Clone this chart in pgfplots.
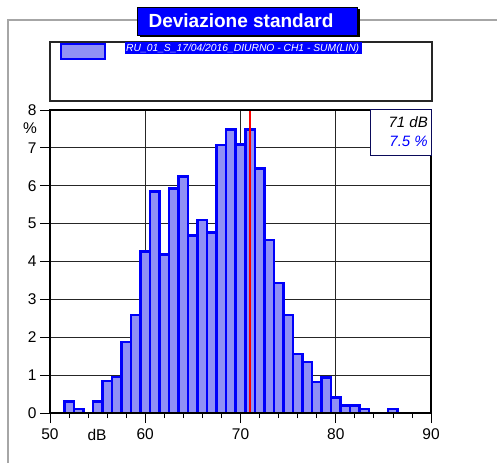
\documentclass[border=0pt]{standalone}
\usepackage{pgfplots}
\pgfplotsset{compat=1.18}
\usepackage{fontspec}
\setmainfont{Liberation Sans}
\definecolor{barfill}{RGB}{145,145,245}
\definecolor{barline}{RGB}{0,0,250}
\definecolor{navy}{RGB}{10,10,90}
\begin{document}
\begin{tikzpicture}[x=1pt,y=1pt]
\path[use as bounding box] (0,0) rectangle (497,463);
\draw[black!35, line width=1.2pt] (8,0) -- (8,443) -- (497,443);
% title
\fill[black] (139.5,425.5) rectangle (359.5,453.5);
\draw[fill={rgb,255:red,0;green,0;blue,255}, draw=black, line width=0.8pt] (137,428) rectangle (357,456);
\node[white, font=\fontsize{19}{19}\selectfont\bfseries] at (241,442) {Deviazione standard};
% legend box
\draw[black!85, line width=1.2pt] (50,362) rectangle (432,421);
\draw[barline, line width=2.5pt, fill=barfill] (61,404) rectangle (105,419);
\fill[blue] (125,409) rectangle (362,420.5);
\node[white, anchor=west, inner sep=0pt, font=\fontsize{10.3}{10.3}\selectfont\itshape] at (126,414.5) {RU\_01\_S\_17/04/2016\_DIURNO - CH1 - SUM(LIN)};
\begin{axis}[
  at={(50pt,50pt)}, anchor=south west,
  width=381pt, height=303pt, scale only axis,
  xmin=50, xmax=90, ymin=0, ymax=8,
  xtick={50,60,...,90}, minor xtick={52,54,...,88},
  ytick={0,1,...,8},
  xtick pos=bottom, ytick pos=left,
  tick align=outside,
  major tick length=10pt, minor tick length=5pt,
  xmajorgrids, ymajorgrids,
  grid style={black!85, line width=0.8pt},
  axis line style={black, line width=1.5pt},
  tick style={black, line width=0.8pt},
  ticklabel style={font=\fontsize{15.5}{15.5}\selectfont},
  xticklabel style={yshift=-2pt},
  /pgf/number format/assume math mode=true,
  clip=false,
]
\addplot[ybar, bar width=1, bar shift=0, draw=barline, line width=2.5pt, fill=barfill] coordinates {
(52,0.30) (53,0.10) (54,0.0) (55,0.30) (56,0.84) (57,0.95) (58,1.87) (59,2.59)
(60,4.26) (61,5.85) (62,4.18) (63,5.93) (64,6.24) (65,4.69) (66,5.10) (67,4.77)
(68,7.08) (69,7.49) (70,7.09) (71,7.49) (72,6.46) (73,4.57) (74,3.43) (75,2.59)
(76,1.56) (77,1.35) (78,0.82) (79,0.94) (80,0.41) (81,0.20) (82,0.20) (83,0.10)
(84,0.0) (85,0.0) (86,0.10)
};
\addplot[red, line width=1.5pt] coordinates {(71,0) (71,8)};
\end{axis}
\draw[black, line width=1.5pt] (50,50) rectangle (431,353);
% annotation box
\draw[navy, fill=white, line width=1pt] (370,307) rectangle (431,353);
\node[anchor=east, inner sep=0pt, font=\fontsize{15}{15}\selectfont\itshape] at (428,341) {71 dB};
\node[anchor=east, inner sep=0pt, text=blue, font=\fontsize{15}{15}\selectfont\itshape] at (428,322) {7.5 \%};
\node[font=\fontsize{15.5}{15.5}\selectfont] at (30,335) {\%};
\node[font=\fontsize{15.5}{15.5}\selectfont] at (97,28) {dB};
\end{tikzpicture}
\end{document}
